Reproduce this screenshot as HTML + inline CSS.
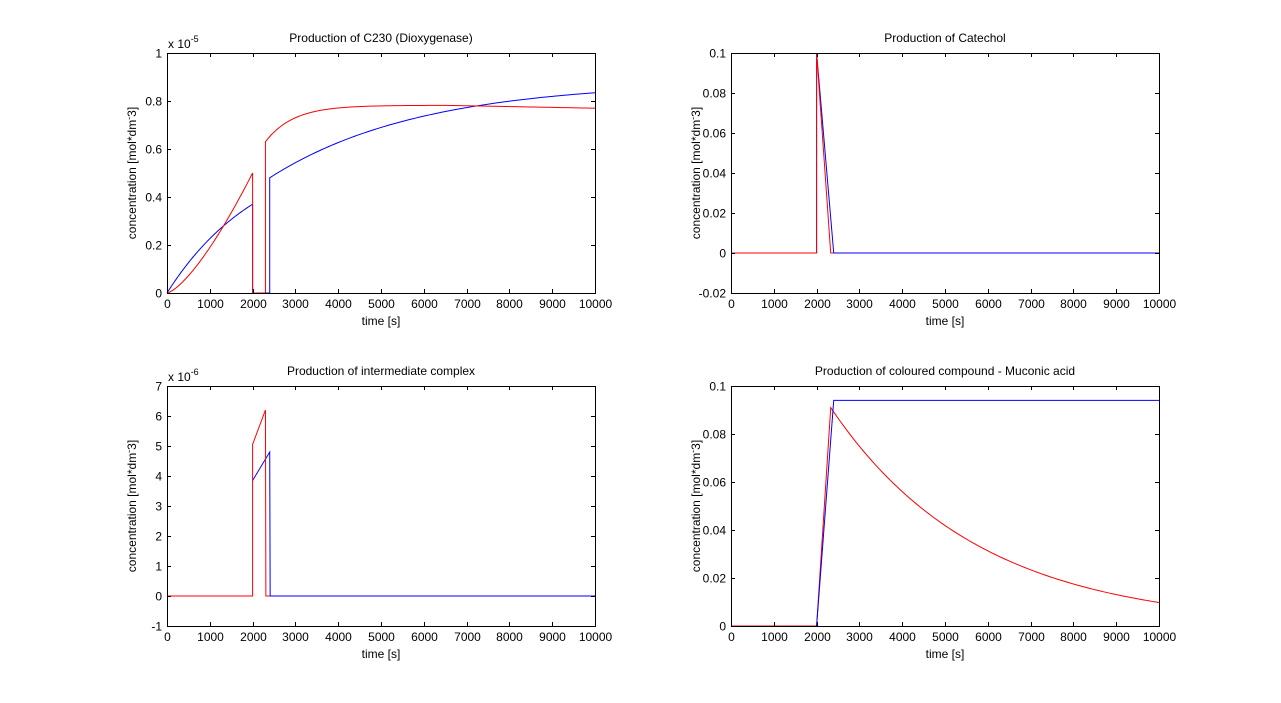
<!DOCTYPE html>
<html><head><meta charset="utf-8"><style>
body{margin:0;background:#fff;}
svg{display:block;font-family:"Liberation Sans",Arial,sans-serif;}
</style></head><body>
<svg id="s" width="1281" height="703" xmlns="http://www.w3.org/2000/svg"></svg>
<script>
const S=document.getElementById('s');let h='<rect width="1281" height="703" fill="#fff"/>';
function ax(x0,y0,ymin,ymax,ystep,ydec,title,exp,series){
 const W=428,H=240;
 const X=t=>x0+t/10000*W, Y=v=>y0+H-(v-ymin)/(ymax-ymin)*H;
 for(const s of series){
  let d='';s.pts.forEach((p,i)=>{d+=(i?'L':'M')+X(p[0]).toFixed(2)+' '+Y(p[1]).toFixed(2);});
  h+=`<path d="${d}" fill="none" stroke="${s.c}" stroke-width="1"/>`;
 }
 h+=`<rect x="${x0+.5}" y="${y0+.5}" width="${W}" height="${H}" fill="none" stroke="#000"/>`;
 for(let t=0;t<=10000;t+=1000){const x=Math.round(X(t))+.5;
  h+=`<line x1="${x}" y1="${y0}" x2="${x}" y2="${y0+4}" stroke="#000"/><line x1="${x}" y1="${y0+H}" x2="${x}" y2="${y0+H-4}" stroke="#000"/>`;
  h+=`<text x="${x}" y="${y0+H+15}" font-size="12" text-anchor="middle">${t}</text>`;}
 for(let v=ymin;v<=ymax+1e-9;v+=ystep){const y=Math.round(Y(v))+.5;
  h+=`<line x1="${x0}" y1="${y}" x2="${x0+4}" y2="${y}" stroke="#000"/><line x1="${x0+W}" y1="${y}" x2="${x0+W-4}" y2="${y}" stroke="#000"/>`;
  let lbl=Math.abs(v)<1e-9?'0':(+v.toFixed(ydec)).toString();
  h+=`<text x="${x0-5}" y="${y+4}" font-size="12" text-anchor="end">${lbl}</text>`;}
 h+=`<text x="${x0+W/2}" y="${y0-11}" font-size="12" text-anchor="middle">${title}</text>`;
 h+=`<text x="${x0+W/2}" y="${y0+H+32}" font-size="12" text-anchor="middle">time [s]</text>`;
 h+=`<text transform="translate(${x0-31},${y0+H/2}) rotate(-90)" font-size="12" text-anchor="middle">concentration [mol*dm<tspan dy="-4" font-size="9">-</tspan><tspan dy="4">3]</tspan></text>`;
 if(exp)h+=`<text x="${x0+1}" y="${y0-5}" font-size="12">x 10<tspan dy="-6" font-size="9">${exp}</tspan></text>`;
}
function gen(f,a,b,n){const r=[];for(let i=0;i<=n;i++){const t=a+(b-a)*i/n;r.push([t,f(t)]);}return r;}
let b1=gen(t=>0.37*(1-Math.exp(-t/2200))/(1-Math.exp(-2000/2200)),0,2000,60);
b1.push([2000,0],[2400,0]);b1=b1.concat(gen(t=>0.48+0.4*(1-Math.exp(-(t-2400)/3500)),2400,10000,100));
let r1=gen(t=>0.5*Math.pow(t/2000,1.4),0,2000,60);
r1.push([2000,0],[2300,0]);r1=r1.concat(gen(t=>0.63+0.152*(1-Math.exp(-(t-2300)/650))-0.012*Math.max(0,(t-6500)/3500),2300,10000,120));
ax(167,53,0,1,0.2,1,'Production of C230 (Dioxygenase)','-5',[{c:'#00f',pts:b1},{c:'#f00',pts:r1}]);
ax(731,53,-0.02,0.1,0.02,2,'Production of Catechol','',[
 {c:'#00f',pts:[[2000,0],[2000,0.1],[2400,0],[10000,0]]},
 {c:'#f00',pts:[[0,0],[2000,0],[2000,0.1],[2330,0],[2400,0]]}]);
ax(167,386,-1,7,1,0,'Production of intermediate complex','-6',[
 {c:'#00f',pts:[[2000,3.85],[2400,4.8],[2410,0],[10000,0]]},
 {c:'#f00',pts:[[0,0],[2000,0],[2000,5.05],[2300,6.2],[2310,0],[2400,0]]}]);
ax(731,386,0,0.1,0.02,2,'Production of coloured compound - Muconic acid','',[
 {c:'#f00',pts:[[0,0],[2000,0]].concat([[2330,0.091]]).concat(gen(t=>0.091*Math.exp(-(t-2330)/3440),2330,10000,100))},
 {c:'#00f',pts:[[2000,0],[2400,0.094],[10000,0.094]]}]);
S.innerHTML=h;
</script>
</body></html>
